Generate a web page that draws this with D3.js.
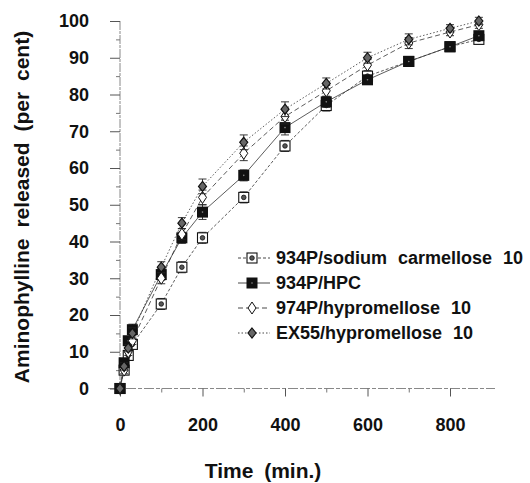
<!DOCTYPE html>
<html>
<head>
<meta charset="utf-8">
<script src="https://cdn.jsdelivr.net/npm/d3@7"></script>
<style>
    body { margin: 0; background: #fff; }
    svg { font-family: 'Liberation Sans', Arial, sans-serif; }
</style>
</head>
<body>
<svg width="530" height="483"></svg>
<script>
// values
const times = [0, 10, 20, 30, 100, 150, 200, 300, 400, 500, 600, 700, 800, 870];
const seriesNames = [
    '934P/sodium carmellose 10',
    '934P/HPC',
    '974P/hypromellose 10',
    'EX55/hypromellose 10'
];
const carmellose = [0, 5, 9, 12, 23, 33, 41, 52, 66, 77, 85, 89, 93, 95];
const hpc = [0, 7, 13, 16, 31, 41, 48, 58, 71, 78, 84, 89, 93, 96];
const hypro974 = [0, 5, 10, 13, 30, 42, 52, 64, 74, 81, 88, 94, 97, 99];
const ex55 = [0, 6, 11, 15, 33, 45, 55, 67, 76, 83, 90, 95, 98, 100];
const carmelloseSd = [0, 1, 1, 1, 1.5, 1.5, 1.5, 1.5, 1.5, 1.5, 1, 1, 1, 1];
const hpcSd = [0, 1, 1, 1.5, 1.5, 1.5, 2, 1.5, 2, 1.5, 1, 1, 1, 1];
const hypro974Sd = [0, 1, 1, 1, 1.5, 1.5, 2, 2, 2, 1.5, 1.5, 1.5, 1, 1];
const ex55Sd = [0, 1, 1, 1.5, 1.5, 1.5, 2, 2, 2, 1.5, 1.5, 1.5, 1, 1];
const yTicks = [0, 10, 20, 30, 40, 50, 60, 70, 80, 90, 100];
const xTicks = [0, 200, 400, 600, 800];

const svg = d3.select('svg');

const xScale = d3.scaleLinear().domain([0, 800]).range([120, 450]);
const yScale = d3.scaleLinear().domain([0, 100]).range([388.5, 21]);

const series = [
    { name: seriesNames[0], values: carmellose, sd: carmelloseSd, marker: 'sqdot', dash: '3,2' },
    { name: seriesNames[1], values: hpc, sd: hpcSd, marker: 'sqfill', dash: null },
    { name: seriesNames[2], values: hypro974, sd: hypro974Sd, marker: 'dmopen', dash: '5,3' },
    { name: seriesNames[3], values: ex55, sd: ex55Sd, marker: 'dmfill', dash: '1.5,2' }
];

// axis lines (faint, like the scan)
svg.append('line')
    .attr('x1', 120).attr('x2', 120)
    .attr('y1', yScale(100)).attr('y2', yScale(0) + 7)
    .attr('stroke', '#888').attr('stroke-width', 1)
    .attr('stroke-dasharray', '9,1,3,1');
svg.append('line')
    .attr('x1', 108).attr('x2', 495)
    .attr('y1', yScale(0)).attr('y2', yScale(0))
    .attr('stroke', '#888').attr('stroke-width', 1)
    .attr('stroke-dasharray', '10,2,4,2');

// Y axis
const yAxis = svg.append('g')
    .attr('transform', 'translate(120,0)')
    .call(d3.axisLeft(yScale).tickValues(yTicks).tickSize(10).tickPadding(21));
yAxis.select('.domain').remove();
yAxis.selectAll('line').attr('stroke', '#555');
yAxis.selectAll('text')
    .style('font-size', '18px')
    .style('font-weight', 'bold')
    .attr('fill', '#111');

const yMinor = svg.append('g')
    .attr('transform', 'translate(120,0)')
    .call(d3.axisLeft(yScale).tickValues(d3.range(5, 100, 10)).tickSize(4).tickFormat(''));
yMinor.select('.domain').remove();
yMinor.selectAll('line').attr('stroke', '#777');

// X axis
const xAxis = svg.append('g')
    .attr('transform', `translate(0,${yScale(0)})`)
    .call(d3.axisBottom(xScale).tickValues(xTicks).tickSize(8).tickPadding(22));
xAxis.select('.domain').remove();
xAxis.selectAll('line').attr('stroke', '#555');
xAxis.selectAll('text')
    .style('font-size', '18px')
    .style('font-weight', 'bold')
    .attr('fill', '#111');

const xMinor = svg.append('g')
    .attr('transform', `translate(0,${yScale(0)})`)
    .call(d3.axisBottom(xScale).tickValues([100, 300, 500, 700]).tickSize(4).tickFormat(''));
xMinor.select('.domain').remove();
xMinor.selectAll('line').attr('stroke', '#777');

// axis titles
svg.append('text')
    .attr('transform', 'translate(21,207) rotate(-90)')
    .attr('text-anchor', 'middle')
    .attr('dominant-baseline', 'central')
    .style('font-size', '21px')
    .style('font-weight', 'bold')
    .style('word-spacing', '5px')
    .attr('fill', '#111')
    .text('Aminophylline released (per cent)');

svg.append('text')
    .attr('x', 263)
    .attr('y', 470)
    .attr('text-anchor', 'middle')
    .attr('dominant-baseline', 'central')
    .style('font-size', '21px')
    .style('font-weight', 'bold')
    .style('word-spacing', '5px')
    .attr('fill', '#111')
    .text('Time (min.)');

function drawMarker(g, type, cx, cy) {
    if (type === 'sqdot') {
        g.append('rect').attr('x', cx - 5).attr('y', cy - 5).attr('width', 10).attr('height', 10)
            .attr('fill', '#fff').attr('stroke', '#111').attr('stroke-width', 1.1);
        g.append('circle').attr('cx', cx).attr('cy', cy).attr('r', 2.3)
            .attr('fill', '#555').attr('stroke', '#111').attr('stroke-width', 0.8);
    } else if (type === 'sqfill') {
        g.append('rect').attr('x', cx - 5.5).attr('y', cy - 5.5).attr('width', 11).attr('height', 11)
            .attr('fill', '#111');
        g.append('circle').attr('cx', cx).attr('cy', cy).attr('r', 0.8).attr('fill', '#888');
    } else if (type === 'dmopen') {
        g.append('path')
            .attr('d', `M${cx},${cy - 6}L${cx + 4},${cy}L${cx},${cy + 6}L${cx - 4},${cy}Z`)
            .attr('fill', '#fff').attr('stroke', '#111').attr('stroke-width', 1);
    } else {
        g.append('path')
            .attr('d', `M${cx},${cy - 5}L${cx + 4},${cy}L${cx},${cy + 5}L${cx - 4},${cy}Z`)
            .attr('fill', '#666').attr('stroke', '#111').attr('stroke-width', 1.2);
    }
}

const line = d3.line()
    .x(function(d, i) { return xScale(times[i]); })
    .y(function(d) { return yScale(d); });

const plot = svg.append('g');

series.forEach(function(s) {
    plot.append('path')
        .datum(s.values)
        .attr('d', line)
        .attr('fill', 'none')
        .attr('stroke', '#333')
        .attr('stroke-width', 0.8)
        .attr('stroke-dasharray', s.dash);
});

series.forEach(function(s) {
    const g = plot.append('g');
    s.values.forEach(function(v, i) {
        const cx = xScale(times[i]);
        const sd = s.sd[i];
        if (sd > 0) {
            const y1 = yScale(v + sd), y2 = yScale(v - sd);
            g.append('line').attr('x1', cx).attr('x2', cx).attr('y1', y1).attr('y2', y2)
                .attr('stroke', '#222').attr('stroke-width', 0.9);
            [y1, y2].forEach(function(yy) {
                g.append('line').attr('x1', cx - 4).attr('x2', cx + 4).attr('y1', yy).attr('y2', yy)
                    .attr('stroke', '#222').attr('stroke-width', 0.9);
            });
        }
        drawMarker(g, s.marker, cx, yScale(v));
    });
});

// legend
const legend = svg.append('g');
series.forEach(function(s, i) {
    const ly = 258 + i * 25;
    legend.append('line')
        .attr('x1', 238).attr('x2', 270).attr('y1', ly).attr('y2', ly)
        .attr('stroke', '#333').attr('stroke-width', 0.9)
        .attr('stroke-dasharray', s.dash);
    drawMarker(legend, s.marker, 252, ly);
    legend.append('text')
        .attr('x', 276).attr('y', ly)
        .attr('dominant-baseline', 'central')
        .style('font-size', '18px')
        .style('font-weight', 'bold')
        .style('word-spacing', '6px')
        .attr('fill', '#111')
        .text(s.name);
});
</script>
</body>
</html>
